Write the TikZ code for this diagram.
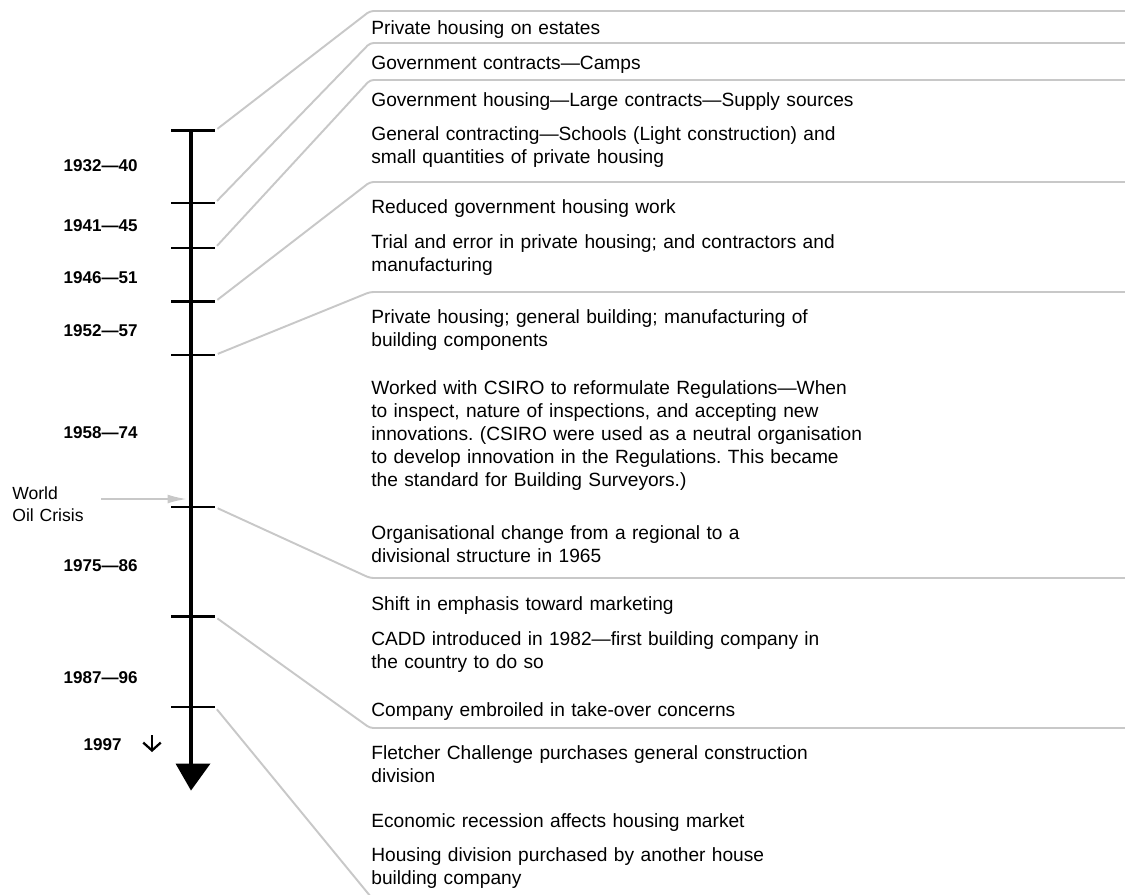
\documentclass[tikz,border=0pt]{standalone}
\usepackage{fontspec}
\setmainfont{Liberation Sans}
\usetikzlibrary{arrows.meta}
\definecolor{leadgray}{RGB}{200,200,200}
\frenchspacing
\begin{document}
\begin{tikzpicture}[x=0.02cm,y=-0.02cm,
	lead/.style={draw=leadgray,line width=1.1pt,rounded corners=2pt,shorten <=1.7pt},
	tick/.style={line width=1.6pt},
	event/.style={anchor=base west,inner sep=0pt,text width=12cm,align=left,
		font=\fontsize{10.9}{13.2}\selectfont},
	period/.style={anchor=base east,inner sep=0pt,font=\fontsize{9.7}{11}\selectfont\bfseries}]
	\useasboundingbox (0,0) rectangle (1125,894);
	\coordinate (edge) at (1125,0);

	% Time axis
	\draw[line width=1.9pt] (191,130.7) -- (191,766);
	\fill (175.5,763.5) coordinate (hl) -- (210.5,763.5) coordinate (hr) -- (191,790.5) coordinate (tip) -- cycle;

	% Ticks
	\draw[tick] (171,130.7) -- (215,130.7) coordinate (k1);
	\draw[tick] (171,203) -- (215,203) coordinate (k2);
	\draw[tick] (171,248) -- (215,248) coordinate (k3);
	\draw[tick] (171,301.7) -- (215,301.7) coordinate (k4);
	\draw[tick] (171,355) -- (215,355) coordinate (k5);
	\draw[tick] (171,507) -- (215,507) coordinate (k6);
	\draw[tick] (171,616.7) -- (215,616.7) coordinate (k7);
	\draw[tick] (171,707) -- (215,707) coordinate (k8);

	% Periods
	\node[period] (p1) at (138,171) {1932—40};
	\node[period] (p2) at (138,231.5) {1941—45};
	\node[period] (p3) at (138,283) {1946—51};
	\node[period] (p4) at (138,336.5) {1952—57};
	\node[period] (p5) at (138,438) {1958—74};
	\node[period] (p6) at (138,571) {1975—86};
	\node[period] (p7) at (138,683) {1987—96};
	\node[period] (p8) at (122,750) {1997};
	\coordinate (d1) at (152,735);
	\coordinate (d2) at (152,752);
	\draw[line width=1.3pt,-{Straight Barb[length=4.5pt,width=10pt]}] (d1) -- (d2);

	% World oil crisis
	\node[anchor=base west,inner sep=0pt,text width=3cm,align=left,font=\fontsize{10}{12.5}\selectfont] (oil) at (12,499.5) {World\\Oil Crisis};
	\coordinate (oiltail) at (101,499);
	\coordinate (oiltip) at (187,499);
	\draw[leadgray,line width=1.1pt,-{Latex[length=11pt,width=5pt]}] (oiltail) -- (oiltip);

	% Bends of the leaders
	\coordinate (c1) at (370,11);
	\coordinate (c2) at (370,43);
	\coordinate (c3) at (370,80);
	\coordinate (c4) at (370,182);
	\coordinate (c5) at (370,292);
	\coordinate (c6) at (370,578);
	\coordinate (c7) at (370,728);
	\coordinate (c8) at (371,897);

	% Leaders
	\draw[lead] (k1) -- (c1) -- (c1 -| edge);
	\draw[lead] (k2) -- (c2) -- (c2 -| edge);
	\draw[lead] (k3) -- (c3) -- (c3 -| edge);
	\draw[lead] (k4) -- (c4) -- (c4 -| edge);
	\draw[lead] (k5) -- (c5) -- (c5 -| edge);
	\draw[lead] (k6) -- (c6) -- (c6 -| edge);
	\draw[lead] (k7) -- (c7) -- (c7 -| edge);
	\draw[lead] (k8) -- (c8);

	% Events
	\node[event] (e1) at (371,34) {Private housing on estates};
	\node[event] (e2) at (371,69) {Government contracts—Camps};
	\node[event] (e3) at (371,106) {Government housing—Large contracts—Supply sources};
	\node[event] (e4) at (371,140) {General contracting—Schools (Light construction) and\\small quantities of private housing};
	\node[event] (e5) at (371,213) {Reduced government housing work};
	\node[event] (e6) at (371,248) {Trial and error in private housing; and contractors and\\manufacturing};
	\node[event] (e7) at (371,323) {Private housing; general building; manufacturing of\\building components};
	\node[event] (e8) at (371,394) {Worked with CSIRO to reformulate Regulations—When\\to inspect, nature of inspections, and accepting new\\innovations. (CSIRO were used as a neutral organisation\\to develop innovation in the Regulations. This became\\the standard for Building Surveyors.)};
	\node[event] (e9) at (371,539) {Organisational change from a regional to a\\divisional structure in 1965};
	\node[event] (e10) at (371,610.5) {Shift in emphasis toward marketing};
	\node[event] (e11) at (371,645.5) {CADD introduced in 1982—first building company in\\the country to do so};
	\node[event] (e12) at (371,716.5) {Company embroiled in take-over concerns};
	\node[event] (e13) at (371,759.5) {Fletcher Challenge purchases general construction\\division};
	\node[event] (e14) at (371,827.5) {Economic recession affects housing market};
	\node[event] (e15) at (371,861.5) {Housing division purchased by another house\\building company};
\end{tikzpicture}
\end{document}
